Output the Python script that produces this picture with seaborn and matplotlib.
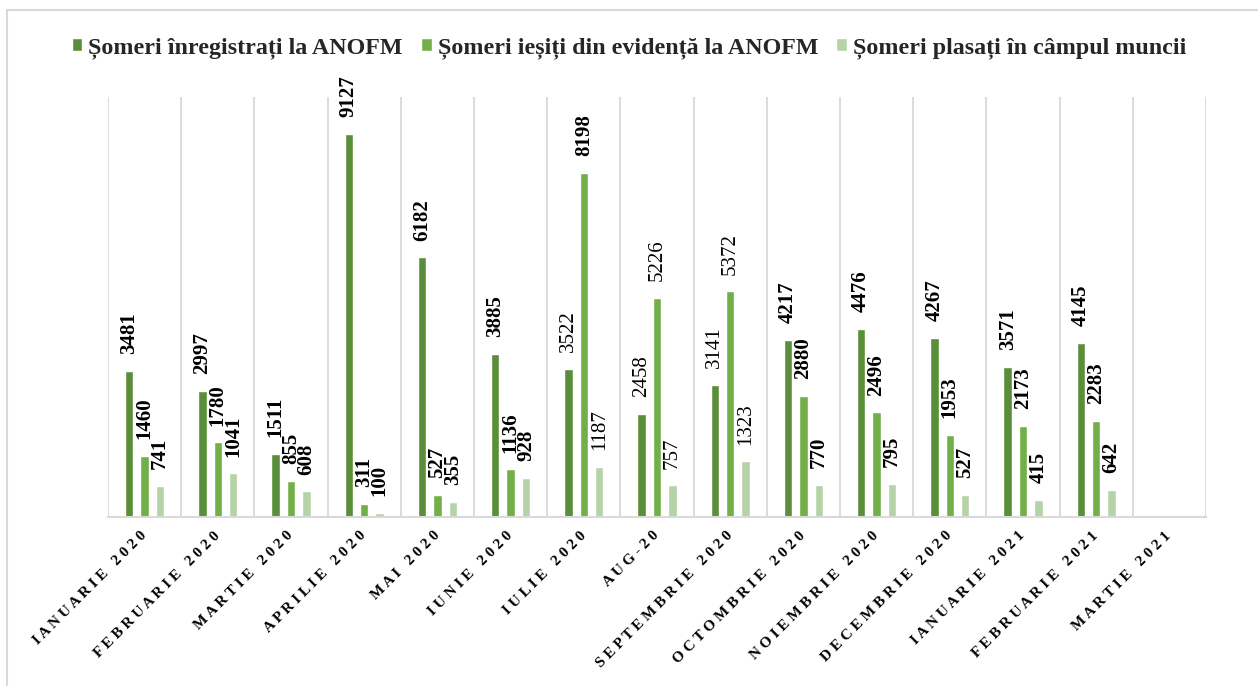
import numpy as np
import pandas as pd
import matplotlib
matplotlib.use("Agg")
import matplotlib.pyplot as plt
from matplotlib.patches import Rectangle
import seaborn as sns

categories = ["IANUARIE 2020", "FEBRUARIE 2020", "MARTIE 2020", "APRILIE 2020",
              "MAI 2020", "IUNIE 2020", "IULIE 2020", "AUG-20", "SEPTEMBRIE 2020",
              "OCTOMBRIE 2020", "NOIEMBRIE 2020", "DECEMBRIE 2020", "IANUARIE 2021",
              "FEBRUARIE 2021", "MARTIE 2021"]
inregistrati = [3481, 2997, 1511, 9127, 6182, 3885, 3522, 2458, 3141, 4217, 4476, 4267, 3571, 4145, np.nan]
iesiti = [1460, 1780, 855, 311, 527, 1136, 8198, 5226, 5372, 2880, 2496, 1953, 2173, 2283, np.nan]
plasati = [741, 1041, 608, 100, 355, 928, 1187, 757, 1323, 770, 795, 527, 415, 642, np.nan]
series_names = ["Șomeri înregistrați la ANOFM", "Șomeri ieșiți din evidență la ANOFM",
                "Șomeri plasați în câmpul muncii"]
colors = ["#5B8E3A", "#72AF48", "#B5D3A6"]

# labels drawn in regular (non-bold) weight in the reference: (series index, category index)
regular_labels = {(0, 6), (2, 6), (0, 7), (1, 7), (2, 7), (0, 8), (1, 8), (2, 8)}

sns.set_theme(style="white")
plt.rcParams["font.family"] = ["Liberation Serif", "DejaVu Serif"]
plt.rcParams["font.weight"] = "bold"

rows = []
for name, vals in zip(series_names, [inregistrati, iesiti, plasati]):
    for c, v in zip(categories, vals):
        rows.append({"cat": c, "series": name, "val": v})
df = pd.DataFrame(rows)

fig = plt.figure(figsize=(12.58, 6.86), dpi=100)
ax = fig.add_axes([108/1258, 1-517/686, (1206-108)/1258, (517-97)/686])

sns.barplot(data=df, x="cat", y="val", hue="series", order=categories,
            hue_order=series_names, palette=colors, width=0.63, gap=0.45,
            saturation=1, ax=ax, legend=True)

for si, cont in enumerate(ax.containers):
    labels = ["" if np.isnan(v) else f"{v:.0f}" for v in cont.datavalues]
    texts = ax.bar_label(cont, labels=labels, rotation=90, padding=12,
                         fontsize=15, fontweight="bold", color="black")
    for ci, t in enumerate(texts):
        if (si, ci) in regular_labels:
            t.set_fontweight("normal")

ax.set_ylim(0, 10000)
ax.set_xlim(-0.5, len(categories) - 0.5)
ax.set_yticks([])
ax.set_ylabel("")
ax.set_xlabel("")
for s in ["top", "right", "left"]:
    ax.spines[s].set_visible(False)
ax.spines["bottom"].set_color("#D9D9D9")
ax.spines["bottom"].set_linewidth(1.5)
for xb in np.arange(-0.5, len(categories), 1.0):
    ax.axvline(xb, color="#D9D9D9", lw=1.3, zorder=0)

def spaced(t):
    words = t.split(" ")
    return "   ".join(" ".join(list(w)) for w in words)

ax.set_xticks(range(len(categories)))
ax.set_xticklabels([spaced(c) for c in categories], rotation=45, ha="right",
                   va="center", rotation_mode="anchor", fontsize=11,
                   fontweight="bold", color="black")
ax.tick_params(axis="x", length=0, pad=12)

handles, labels = ax.get_legend_handles_labels()
ax.get_legend().remove()
fig.legend(handles, labels, loc="center", bbox_to_anchor=(0.5, 1-48/686),
           ncol=3, frameon=False, handlelength=0.45,
           handleheight=0.45, handletextpad=0.25, columnspacing=0.75,
           prop={"weight": "bold", "size": 17.3})

fig.add_artist(Rectangle((7/1258, -0.1), 1.2, 1.1 - 10/686, transform=fig.transFigure,
                         fill=False, edgecolor="#D9D9D9", lw=1.5))

fig.savefig("out.png", dpi=100)
